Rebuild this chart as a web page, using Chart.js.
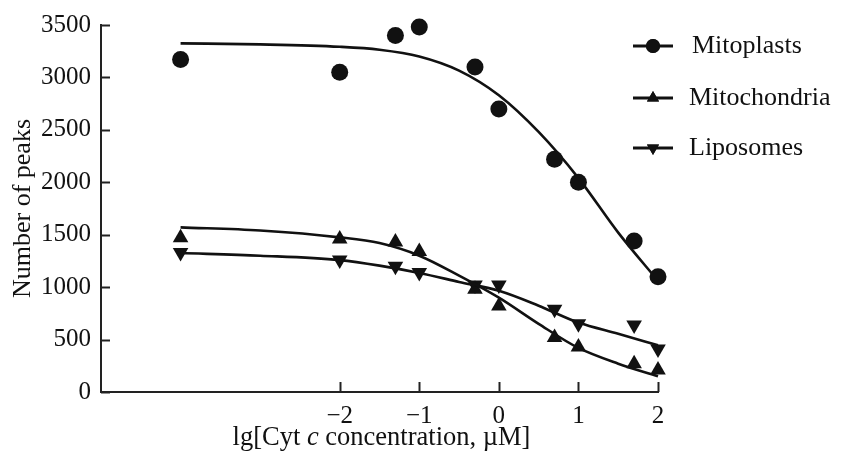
<!DOCTYPE html>
<html>
<head>
<meta charset="utf-8">
<script src="https://cdn.jsdelivr.net/npm/chart.js@4.4.0/dist/chart.umd.min.js"></script>
<style>
  html, body { margin: 0; padding: 0; background: #fff; }
</style>
</head>
<body>
<canvas id="chart" width="842" height="454"></canvas>
<script>
const SERIF = "'Liberation Serif', 'Times New Roman', serif";

// measured points (x = lg of concentration)
const concX = [-4, -2, -1.3, -1, -0.3, 0, 0.7, 1, 1.7, 2];
const mitoplasts = [3170, 3050, 3400, 3480, 3100, 2700, 2220, 2000, 1440, 1100];
const mitochondria = [1470, 1460, 1430, 1340, 980, 820, 520, 430, 270, 210];
const liposomes = [1330, 1260, 1200, 1140, 1020, 1020, 790, 650, 640, 410];

// fitted curves
const fitX = [-4, -3, -2, -1.5, -1, -0.5, 0, 0.5, 1, 1.5, 2];
const fitMitoplasts = [3325, 3315, 3292, 3264, 3200, 3065, 2830, 2480, 2040, 1520, 1060];
const fitMitochondria = [1570, 1540, 1475, 1420, 1300, 1110, 900, 650, 420, 270, 150];
const fitLiposomes = [1325, 1300, 1258, 1205, 1135, 1050, 965, 823, 662, 555, 445];

const xTicks = [-2, -1, 0, 1, 2];
const yTicks = [0, 500, 1000, 1500, 2000, 2500, 3000, 3500];

const seriesNames = ['Mitoplasts', 'Mitochondria', 'Liposomes'];
const markers = [
  { pointStyle: 'circle', rotation: 0 },
  { pointStyle: 'triangle', rotation: 0 },
  { pointStyle: 'triangle', rotation: 180 }
];

function pairs(xs, ys) {
  return xs.map((x, i) => ({ x: x, y: ys[i] }));
}

const pointSets = [mitoplasts, mitochondria, liposomes];
const fitSets = [fitMitoplasts, fitMitochondria, fitLiposomes];

const datasets = [];
fitSets.forEach((ys, i) => {
  datasets.push({
    label: seriesNames[i] + ' fit',
    data: pairs(fitX, ys),
    showLine: true,
    borderColor: '#111',
    borderWidth: 2.6,
    pointRadius: 0,
    cubicInterpolationMode: 'monotone',
    fill: false,
    clip: false
  });
});
pointSets.forEach((ys, i) => {
  datasets.push({
    label: seriesNames[i],
    data: pairs(concX, ys),
    showLine: false,
    pointStyle: markers[i].pointStyle,
    rotation: markers[i].rotation,
    pointRadius: markers[i].pointStyle === 'circle' ? 8.5 : 9,
    backgroundColor: '#111',
    borderColor: '#111',
    borderWidth: 0,
    clip: false
  });
});

// inward tick marks, legend and x title
const decor = {
  id: 'decor',
  afterDraw(chart) {
    const ctx = chart.ctx;
    const area = chart.chartArea;
    const xs = chart.scales.x;
    const ys = chart.scales.y;
    ctx.save();
    ctx.strokeStyle = '#222';
    ctx.lineWidth = 2;
    yTicks.forEach(v => {
      const py = Math.round(ys.getPixelForValue(v)) + 0.5;
      ctx.beginPath();
      ctx.moveTo(area.left, py);
      ctx.lineTo(area.left + 9, py);
      ctx.stroke();
    });
    xTicks.forEach(v => {
      const px = Math.round(xs.getPixelForValue(v)) + 0.5;
      ctx.beginPath();
      ctx.moveTo(px, area.bottom);
      ctx.lineTo(px, area.bottom - 10);
      ctx.stroke();
    });

    // legend
    const rowY = [46, 98, 148];
    seriesNames.forEach((name, i) => {
      const y = rowY[i];
      const x0 = area.right - 25;
      ctx.strokeStyle = '#111';
      ctx.lineWidth = 3;
      ctx.beginPath();
      ctx.moveTo(x0, y);
      ctx.lineTo(x0 + 40, y);
      ctx.stroke();
      ctx.fillStyle = '#111';
      Chart.helpers.drawPoint(ctx, {
        pointStyle: markers[i].pointStyle,
        rotation: markers[i].rotation,
        radius: 7,
        borderWidth: 0
      }, x0 + 20, y);
      ctx.fill();
      ctx.fillStyle = '#111';
      ctx.font = '26px ' + SERIF;
      ctx.textAlign = 'left';
      ctx.textBaseline = 'middle';
      ctx.fillText(name, x0 + (i === 0 ? 59 : 56), y);
    });

    // x title with italic "c"
    const parts = [
      { t: 'lg[Cyt ', f: '26.5px ' + SERIF },
      { t: 'c', f: 'italic 26.5px ' + SERIF },
      { t: ' concentration, \u00b5M]', f: '26.5px ' + SERIF }
    ];
    let total = 0;
    parts.forEach(p => { ctx.font = p.f; p.w = ctx.measureText(p.t).width; total += p.w; });
    let tx = (area.left + area.right) / 2 - total / 2 + 2;
    ctx.textBaseline = 'alphabetic';
    parts.forEach(p => {
      ctx.font = p.f;
      ctx.fillText(p.t, tx, 445);
      tx += p.w;
    });
    ctx.restore();
  }
};

new Chart(document.getElementById('chart'), {
  type: 'scatter',
  data: { datasets: datasets },
  options: {
    responsive: false,
    animation: false,
    devicePixelRatio: 1,
    layout: { padding: { left: 0, top: 22, right: 184, bottom: 0 } },
    plugins: {
      legend: { display: false },
      tooltip: { enabled: false }
    },
    scales: {
      x: {
        type: 'linear',
        min: -5,
        max: 2,
        grid: { display: false, drawTicks: false },
        border: { display: true, color: '#222', width: 2 },
        afterBuildTicks: s => { s.ticks = xTicks.map(v => ({ value: v })); },
        afterFit: s => { s.height = 62; },
        ticks: {
          color: '#111',
          padding: 9,
          maxRotation: 0,
          font: { family: SERIF, size: 25 },
          callback: v => String(v).replace('-', '\u2212')
        }
      },
      y: {
        type: 'linear',
        min: 0,
        max: 3500,
        grid: { display: false, drawTicks: false },
        border: { display: true, color: '#222', width: 2 },
        afterBuildTicks: s => { s.ticks = yTicks.map(v => ({ value: v })); },
        afterFit: s => { s.width = 101; },
        ticks: {
          color: '#111',
          padding: 10,
          font: { family: SERIF, size: 25 },
          callback: v => String(v)
        },
        title: {
          display: true,
          text: 'Number of peaks',
          color: '#111',
          padding: { top: 8, bottom: 0 },
          font: { family: SERIF, size: 26 }
        }
      }
    }
  },
  plugins: [decor]
});
</script>
</body>
</html>
